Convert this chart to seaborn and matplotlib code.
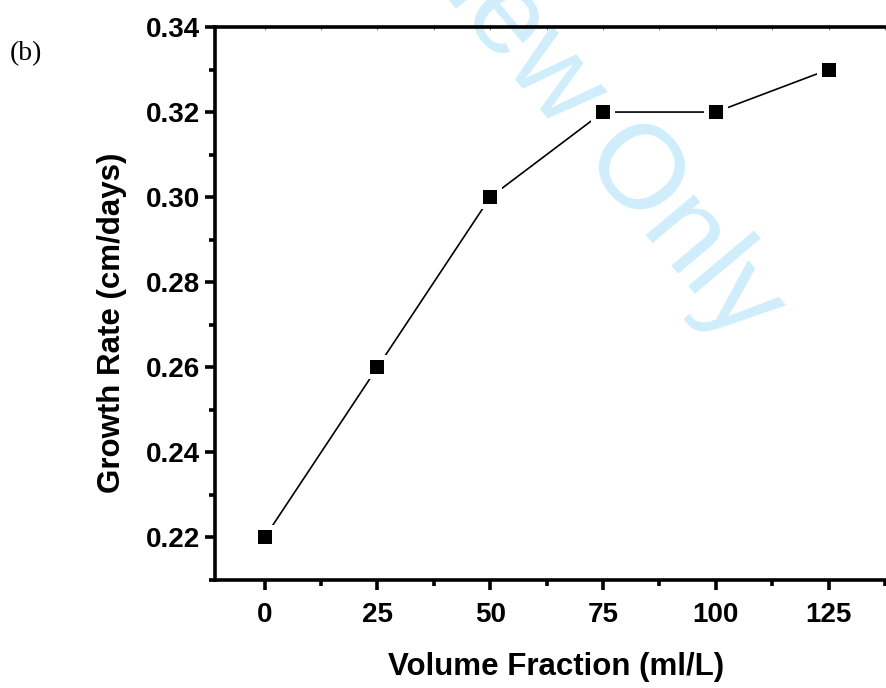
import seaborn as sns
import matplotlib.pyplot as plt
from matplotlib.ticker import MultipleLocator
import pandas as pd

volume_fraction = [0, 25, 50, 75, 100, 125]
growth_rate = [0.22, 0.26, 0.30, 0.32, 0.32, 0.33]
x_ticks = [0, 25, 50, 75, 100, 125]
y_ticks = [0.22, 0.24, 0.26, 0.28, 0.30, 0.32, 0.34]

sns.set_style("ticks")
plt.rcParams['font.family'] = ['Liberation Sans', 'DejaVu Sans']
plt.rcParams['text.color'] = 'black'
plt.rcParams['axes.labelcolor'] = 'black'
plt.rcParams['xtick.color'] = 'black'
plt.rcParams['ytick.color'] = 'black'
plt.rcParams['axes.edgecolor'] = 'black'

df = pd.DataFrame({"vf": volume_fraction, "gr": growth_rate})

fig = plt.figure(figsize=(8.86, 6.88), dpi=100)
ax = fig.add_axes([0.2427, 0.157, 0.769, 0.8038])
ax.patch.set_alpha(0)

sns.lineplot(data=df, x="vf", y="gr", ax=ax, color='black', linewidth=1.2, zorder=2)
# white halo gives the small gap between line and marker
sns.scatterplot(data=df, x="vf", y="gr", ax=ax, marker='s', s=320, color='white',
                edgecolor='white', linewidth=0, zorder=3)
sns.scatterplot(data=df, x="vf", y="gr", ax=ax, marker='s', s=100, color='black',
                edgecolor='black', linewidth=0, zorder=4)

ax.set_xlim(-11, 140)
ax.set_ylim(0.21, 0.34)
ax.set_xticks(x_ticks)
ax.set_yticks(y_ticks)
ax.xaxis.set_minor_locator(MultipleLocator(12.5))
ax.yaxis.set_minor_locator(MultipleLocator(0.01))
ax.set_xticklabels([str(v) for v in x_ticks])
ax.set_yticklabels([f"{v:.2f}" for v in y_ticks])

for s in ax.spines.values():
    s.set_linewidth(2.6)
ax.tick_params(which='major', direction='out', length=7, width=2.6, labelsize=20)
ax.tick_params(axis='x', which='major', pad=9)
ax.tick_params(axis='y', which='major', pad=4)
ax.tick_params(which='minor', direction='out', length=4, width=2.6)
for lab in ax.get_xticklabels() + ax.get_yticklabels():
    lab.set_fontweight('bold')

# faint inward ticks along the top spine
top = ax.secondary_xaxis('top')
top.set_xticks(x_ticks)
top.xaxis.set_minor_locator(MultipleLocator(12.5))
top.tick_params(which='both', direction='in', length=2.5, width=0.8, colors='#888888',
                labeltop=False)
top.spines['top'].set_visible(False)

ax.set_xlabel('Volume Fraction (ml/L)', fontsize=22.5, fontweight='bold', labelpad=17)
ax.set_ylabel('Growth Rate (cm/days)', fontsize=22.5, fontweight='bold')
ax.yaxis.set_label_coords(-0.129, 0.465)

fig.text(0.011, 0.913, '(b)', fontsize=20, family=['Liberation Serif', 'DejaVu Serif'])

# review watermark
fig.text(0.833, 0.4985, 'For Review Only', fontsize=86, color='#cfedfb',
         rotation=-50, rotation_mode='anchor', ha='right', va='baseline', zorder=-1)

fig.savefig('out.png', dpi=100)
